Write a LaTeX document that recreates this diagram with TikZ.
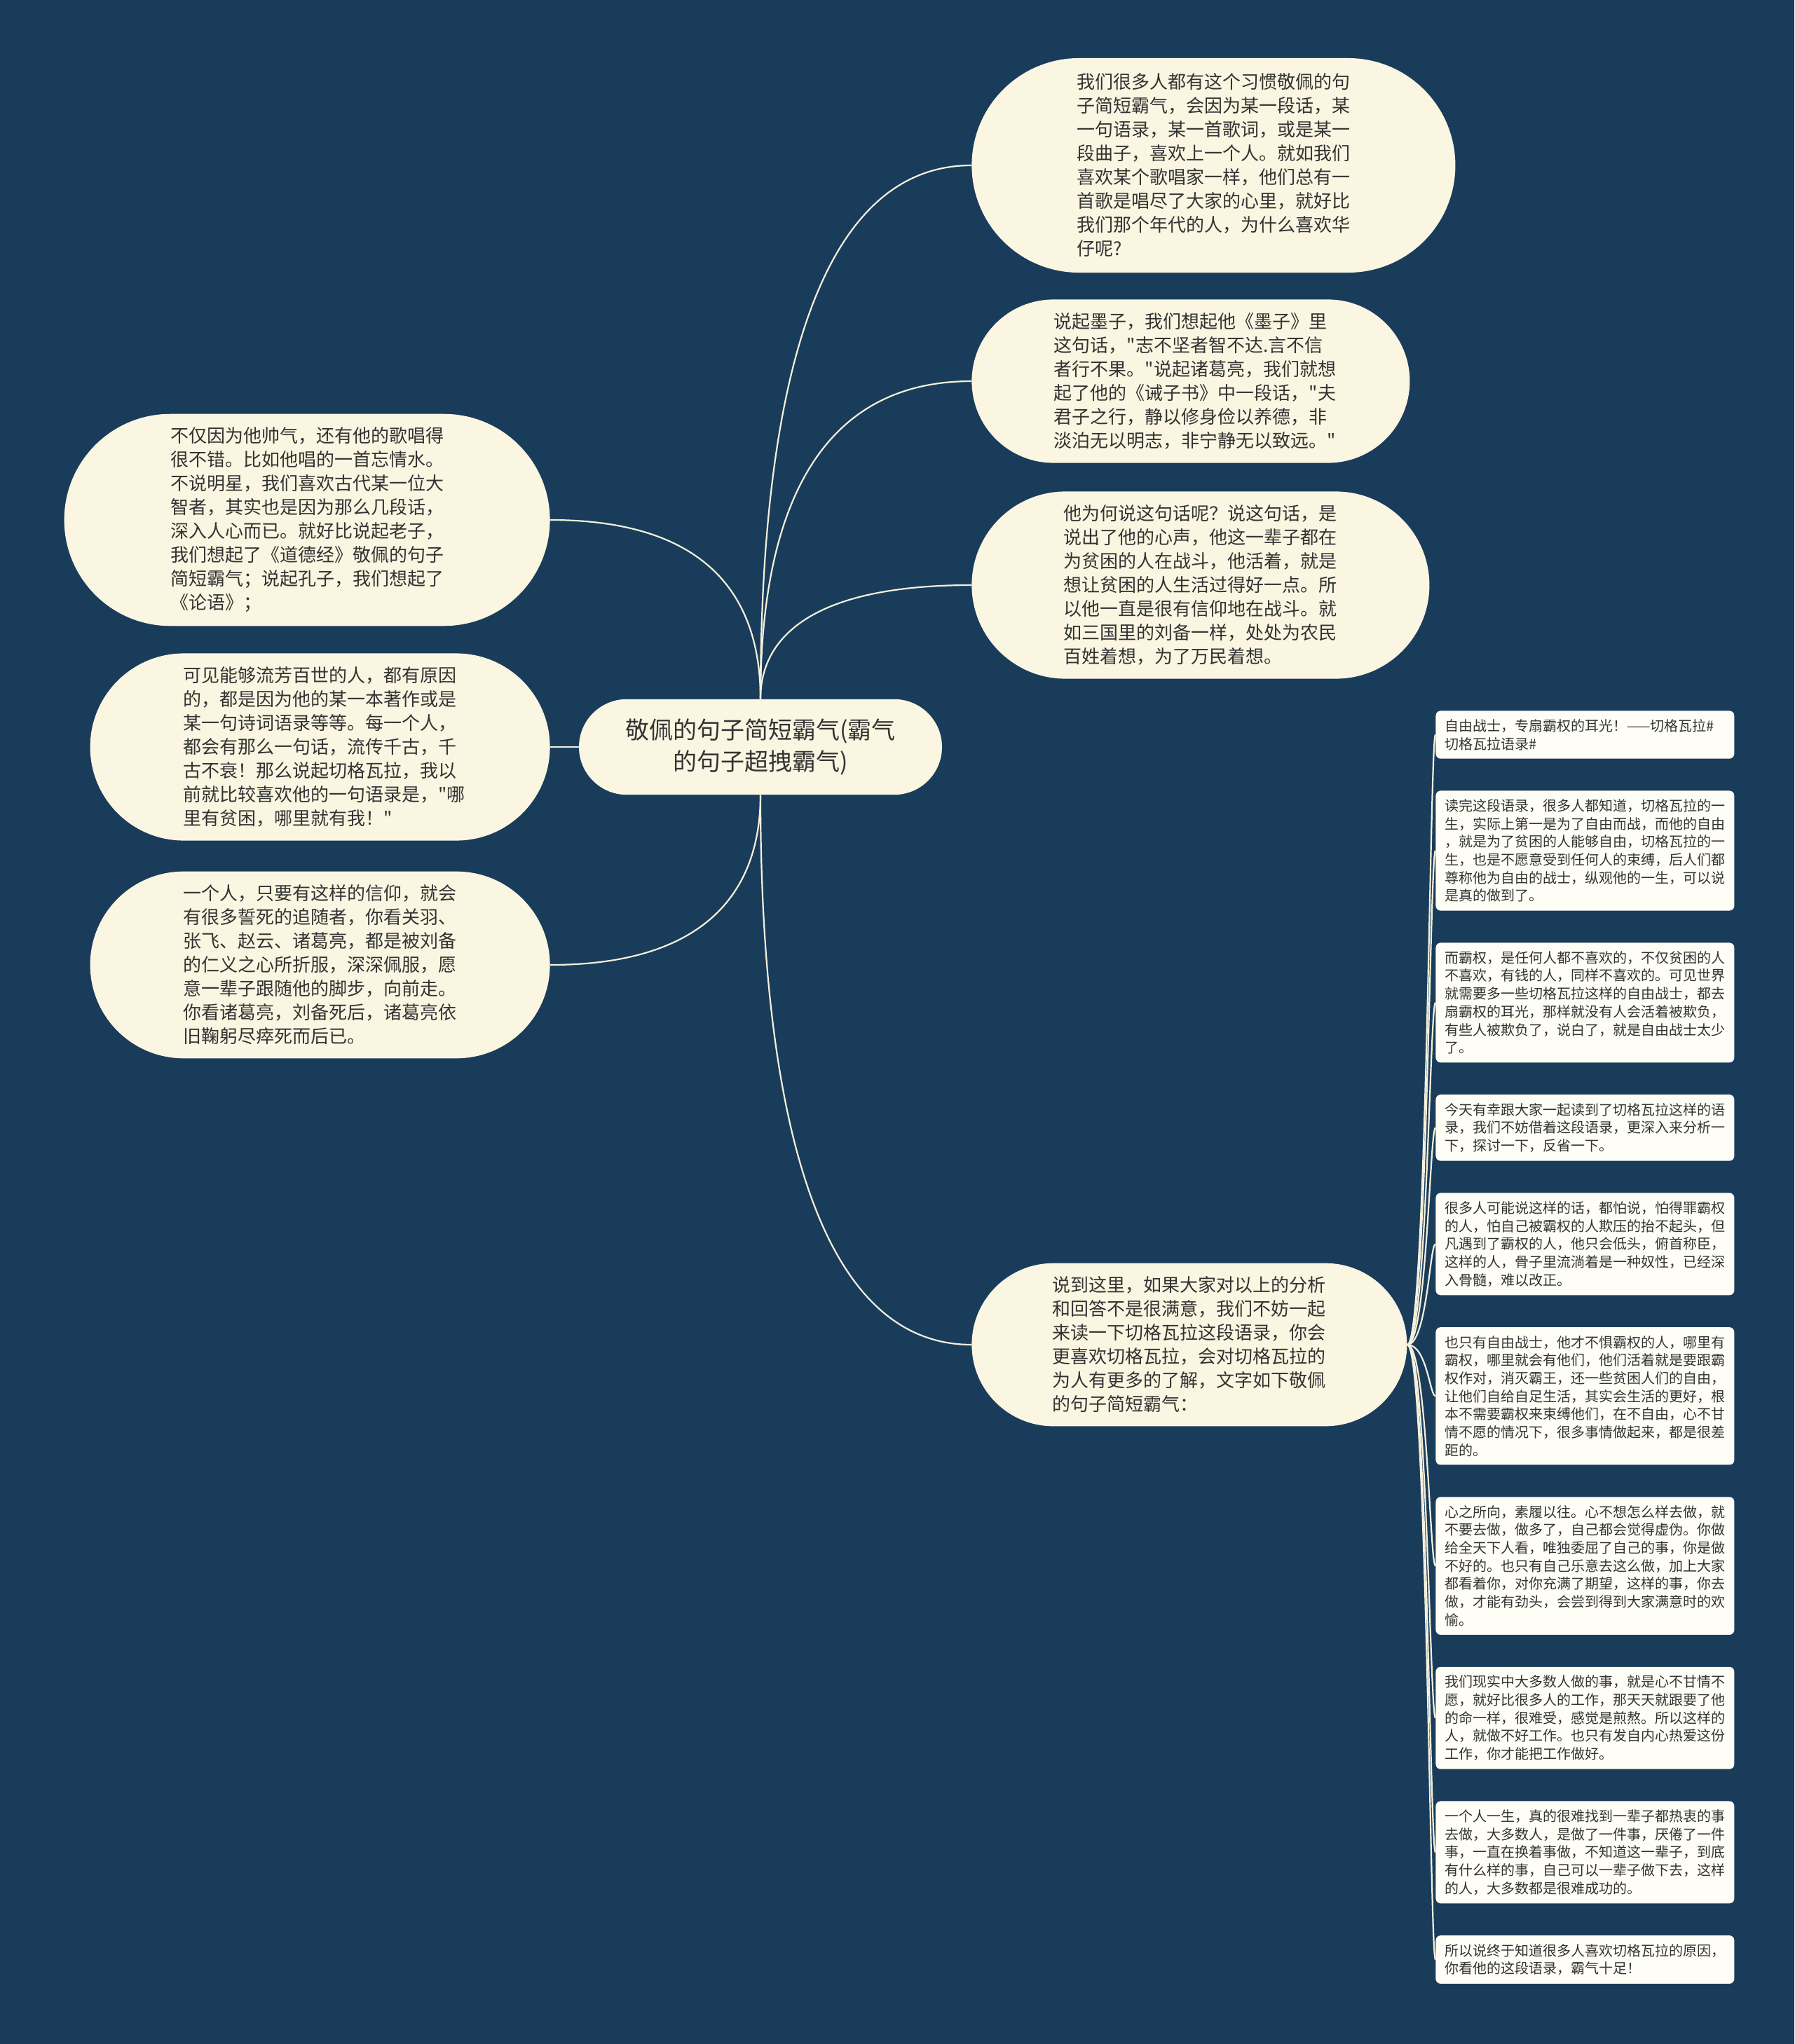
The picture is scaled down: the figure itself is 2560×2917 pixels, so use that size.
\documentclass[tikz,border=0pt]{standalone}
\usepackage{fontspec}
\usepackage{tikz}
\usetikzlibrary{positioning,shapes.misc}
\newfontfamily\cjk{Noto Sans CJK SC}
\definecolor{navybg}{HTML}{1A3C5B}
\definecolor{topicfill}{HTML}{FAF6E1}
\definecolor{notefill}{HTML}{FEFDF6}
\definecolor{linkline}{HTML}{F4F0DC}
\definecolor{ink}{HTML}{333333}

\begin{document}
\begin{tikzpicture}[
  x=0.5pt, y=-0.5pt,
  node distance=22.5pt and 10pt,
  root/.style={rounded rectangle, fill=topicfill, text=ink, minimum width=263.5pt, inner xsep=2.25pt, inner ysep=14pt, align=center, font=\cjk\fontsize{17}{22.5}\selectfont},
  topic/.style={rounded rectangle, fill=topicfill, text=ink, minimum width=#1, inner xsep=2pt, inner ysep=9.6pt, text width=195pt, align=left, font=\cjk\fontsize{13}{17}\selectfont},
  note/.style={fill=notefill, rounded corners=3.5pt, text=ink, inner xsep=6.5pt, inner ysep=6pt, text width=200pt, align=left, font=\cjk\fontsize{10}{12.85}\selectfont},
  link/.style={draw=linkline, line width=1.1pt}
]
\fill[navybg] (0,0) rectangle (2560,2917);
\useasboundingbox (0,0) rectangle (2560,2917);

\node[root] (root) at (1085,1066) {敬佩的句子简短霸气(霸气\\的句子超拽霸气)};

\node[topic=349pt, inner ysep=11pt, anchor=west] (habit) at (1386,236) {我们很多人都有这个习惯敬佩的句\\子简短霸气，会因为某一段话，某\\一句语录，某一首歌词，或是某一\\段曲子，喜欢上一个人。就如我们\\喜欢某个歌唱家一样，他们总有一\\首歌是唱尽了大家的心里，就好比\\我们那个年代的人，为什么喜欢华\\仔呢?};
\node[topic=316.5pt, anchor=west] (mozi) at (1386,544) {说起墨子，我们想起他《墨子》里\\这句话，"志不坚者智不达.言不信\\者行不果。"说起诸葛亮，我们就想\\起了他的《诫子书》中一段话，"夫\\君子之行，静以修身俭以养德，非\\淡泊无以明志，非宁静无以致远。"};
\node[topic=330.5pt, anchor=west] (why) at (1386,835) {他为何说这句话呢？说这句话，是\\说出了他的心声，他这一辈子都在\\为贫困的人在战斗，他活着，就是\\想让贫困的人生活过得好一点。所\\以他一直是很有信仰地在战斗。就\\如三国里的刘备一样，处处为农民\\百姓着想，为了万民着想。};
\node[topic=350.5pt, anchor=east] (idol) at (785,742) {不仅因为他帅气，还有他的歌唱得\\很不错。比如他唱的一首忘情水。\\不说明星，我们喜欢古代某一位大\\智者，其实也是因为那么几段话，\\深入人心而已。就好比说起老子，\\我们想起了《道德经》敬佩的句子\\简短霸气；说起孔子，我们想起了\\《论语》；};
\node[topic=332pt, anchor=east] (legacy) at (785,1066) {可见能够流芳百世的人，都有原因\\的，都是因为他的某一本著作或是\\某一句诗词语录等等。每一个人，\\都会有那么一句话，流传千古，千\\古不衰！那么说起切格瓦拉，我以\\前就比较喜欢他的一句语录是，"哪\\里有贫困，哪里就有我！"};
\node[topic=332pt, anchor=east] (faith) at (785,1377) {一个人，只要有这样的信仰，就会\\有很多誓死的追随者，你看关羽、\\张飞、赵云、诸葛亮，都是被刘备\\的仁义之心所折服，深深佩服，愿\\意一辈子跟随他的脚步，向前走。\\你看诸葛亮，刘备死后，诸葛亮依\\旧鞠躬尽瘁死而后已。};
\node[topic=314.5pt, anchor=west] (intro) at (1386,1919) {说到这里，如果大家对以上的分析\\和回答不是很满意，我们不妨一起\\来读一下切格瓦拉这段语录，你会\\更喜欢切格瓦拉，会对切格瓦拉的\\为人有更多的了解，文字如下敬佩\\的句子简短霸气：};

\node[note, anchor=north west] (free) at (2048,1014) {自由战士，专扇霸权的耳光！——切格瓦拉\#\\切格瓦拉语录\#};
\node[note, below=of free] (reading) {读完这段语录，很多人都知道，切格瓦拉的一\\生，实际上第一是为了自由而战，而他的自由\\，就是为了贫困的人能够自由，切格瓦拉的一\\生，也是不愿意受到任何人的束缚，后人们都\\尊称他为自由的战士，纵观他的一生，可以说\\是真的做到了。};
\node[note, below=of reading] (hegemony) {而霸权，是任何人都不喜欢的，不仅贫困的人\\不喜欢，有钱的人，同样不喜欢的。可见世界\\就需要多一些切格瓦拉这样的自由战士，都去\\扇霸权的耳光，那样就没有人会活着被欺负，\\有些人被欺负了，说白了，就是自由战士太少\\了。};
\node[note, below=of hegemony] (today) {今天有幸跟大家一起读到了切格瓦拉这样的语\\录，我们不妨借着这段语录，更深入来分析一\\下，探讨一下，反省一下。};
\node[note, below=of today] (servile) {很多人可能说这样的话，都怕说，怕得罪霸权\\的人，怕自己被霸权的人欺压的抬不起头，但\\凡遇到了霸权的人，他只会低头，俯首称臣，\\这样的人，骨子里流淌着是一种奴性，已经深\\入骨髓，难以改正。};
\node[note, below=of servile] (fighters) {也只有自由战士，他才不惧霸权的人，哪里有\\霸权，哪里就会有他们，他们活着就是要跟霸\\权作对，消灭霸王，还一些贫困人们的自由，\\让他们自给自足生活，其实会生活的更好，根\\本不需要霸权来束缚他们，在不自由，心不甘\\情不愿的情况下，很多事情做起来，都是很差\\距的。};
\node[note, below=of fighters] (heart) {心之所向，素履以往。心不想怎么样去做，就\\不要去做，做多了，自己都会觉得虚伪。你做\\给全天下人看，唯独委屈了自己的事，你是做\\不好的。也只有自己乐意去这么做，加上大家\\都看着你，对你充满了期望，这样的事，你去\\做，才能有劲头，会尝到得到大家满意时的欢\\愉。};
\node[note, below=of heart] (work) {我们现实中大多数人做的事，就是心不甘情不\\愿，就好比很多人的工作，那天天就跟要了他\\的命一样，很难受，感觉是煎熬。所以这样的\\人，就做不好工作。也只有发自内心热爱这份\\工作，你才能把工作做好。};
\node[note, below=of work] (lifetime) {一个人一生，真的很难找到一辈子都热衷的事\\去做，大多数人，是做了一件事，厌倦了一件\\事，一直在换着事做，不知道这一辈子，到底\\有什么样的事，自己可以一辈子做下去，这样\\的人，大多数都是很难成功的。};
\node[note, below=of lifetime] (reason) {所以说终于知道很多人喜欢切格瓦拉的原因，\\你看他的这段语录，霸气十足！};

\draw[link] (root.north) .. controls +(0,-380) and +(-240,0) .. (habit.west);
\draw[link] (root.north) .. controls +(0,-230) and +(-240,0) .. (mozi.west);
\draw[link] (root.north) .. controls +(0,-80) and +(-240,0) .. (why.west);
\draw[link] (root.north) .. controls +(0,-130) and +(240,0) .. (idol.east);
\draw[link] (root.west) -- (legacy.east);
\draw[link] (root.south) .. controls +(0,120) and +(240,0) .. (faith.east);
\draw[link] (root.south) .. controls +(0,390) and +(-240,0) .. (intro.west);

\draw[link] (intro.east) .. controls +(28,0) and +(-8,0) .. (free.west);
\draw[link] (intro.east) .. controls +(28,0) and +(-8,0) .. (reading.west);
\draw[link] (intro.east) .. controls +(28,0) and +(-8,0) .. (hegemony.west);
\draw[link] (intro.east) .. controls +(28,0) and +(-8,0) .. (today.west);
\draw[link] (intro.east) .. controls +(28,0) and +(-8,0) .. (servile.west);
\draw[link] (intro.east) .. controls +(28,0) and +(-8,0) .. (fighters.west);
\draw[link] (intro.east) .. controls +(28,0) and +(-8,0) .. (heart.west);
\draw[link] (intro.east) .. controls +(28,0) and +(-8,0) .. (work.west);
\draw[link] (intro.east) .. controls +(28,0) and +(-8,0) .. (lifetime.west);
\draw[link] (intro.east) .. controls +(28,0) and +(-8,0) .. (reason.west);
\end{tikzpicture}
\end{document}
